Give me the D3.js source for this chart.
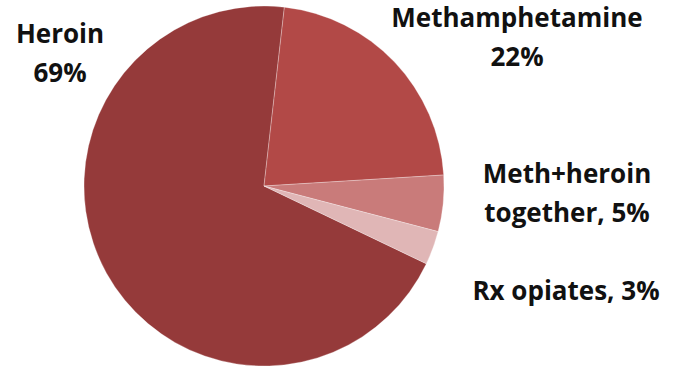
<!DOCTYPE html>
<html>
<head>
<meta charset="utf-8">
<script src="https://cdn.jsdelivr.net/npm/d3@7"></script>
<style>
  html, body { margin: 0; padding: 0; background: #fff; }
  svg { display: block; }
  text { font-family: "Open Sans", sans-serif; font-weight: bold; fill: #111; }
</style>
</head>
<body>
<svg id="chart" width="685" height="368"></svg>
<script>
const categories = ["Heroin", "Methamphetamine", "Meth+heroin together", "Rx opiates"];
const values = [69, 22, 5, 3];
const colors = ["#953a3a", "#b24947", "#c97b7a", "#e0b6b6"];
const labelLines = [
  ["Heroin", "69%"],
  ["Methamphetamine", "22%"],
  ["Meth+heroin", "together, 5%"],
  ["Rx opiates, 3%"]
];

const W = 685, H = 368;
const cx = 264, cy = 186, r = 180;
const svg = d3.select("#chart");
const g = svg.append("g").attr("transform", `translate(${cx},${cy})`);

const total = d3.sum(values);
const heroinSpan = values[0] / total * 2 * Math.PI;
const start = 6.5 * Math.PI / 180 - heroinSpan;

const pie = d3.pie().sort(null).value(d => d)
  .startAngle(start).endAngle(start + 2 * Math.PI);
const arcs = pie(values);
const arc = d3.arc().innerRadius(0).outerRadius(r);

g.selectAll("path").data(arcs).join("path")
  .attr("d", arc)
  .attr("fill", (d, i) => colors[i])
  .attr("stroke", "rgba(255,255,255,0.35)")
  .attr("stroke-width", 0.8);

// label anchor positions (centre x, first baseline y)
const labelPos = [[60, 43], [517, 27], [567, 183], [566, 300]];
const lineH = 38.5;
const lab = svg.append("g");
labelLines.forEach((lines, i) => {
  const t = lab.append("text")
    .attr("x", labelPos[i][0]).attr("y", labelPos[i][1])
    .attr("text-anchor", "middle")
    .attr("font-size", 26);
  lines.forEach((s, j) => {
    t.append("tspan").attr("x", labelPos[i][0]).attr("dy", j === 0 ? 0 : lineH).text(s);
  });
});
</script>
</body>
</html>
